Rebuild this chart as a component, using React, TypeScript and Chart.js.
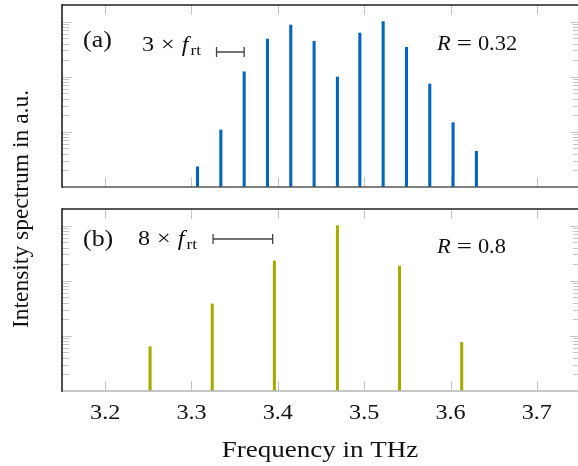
import React, { useEffect, useRef } from 'react';
import { Chart, registerables } from 'chart.js';

Chart.register(...registerables);

// ---- data -------------------------------------------------------------
const X_TICKS = [3.2, 3.3, 3.4, 3.5, 3.6, 3.7];
const X_TICK_LABELS = ['3.2', '3.3', '3.4', '3.5', '3.6', '3.7'];

// panel (a): comb with 3 x f_rt spacing
const TOP_FREQ = [3.307, 3.334, 3.361, 3.388, 3.415, 3.442, 3.469, 3.495, 3.522, 3.549, 3.576, 3.603, 3.630];
const TOP_INTENSITY = [0.00233, 0.0108, 0.123, 0.484, 0.867, 0.44, 0.099, 0.621, 1.0, 0.342, 0.0738, 0.0147, 0.00445];

// panel (b): comb with 8 x f_rt spacing
const BOTTOM_FREQ = [3.252, 3.324, 3.396, 3.469, 3.541, 3.613];
const BOTTOM_INTENSITY = [0.00637, 0.0379, 0.228, 1.0, 0.185, 0.00764];

const PANEL_LABELS = ['(a)', '(b)'];
const SPACING_FACTORS = ['3', '8'];
const R_VALUES = ['0.32', '0.8'];
const TOP_SPAN = [3.329, 3.361];
const BOTTOM_SPAN = [3.325, 3.394];

const X_TITLE = 'Frequency in THz';
const Y_TITLE = 'Intensity spectrum in a.u.';

// ---- layout / style ----------------------------------------------------
const CANVAS_W = 590;
const CANVAS_H = 466;
const PLOT_LEFT = 62;
const PLOT_RIGHT = 580;
const X_MIN = 3.15;
const X_MAX = 3.75;
const Y_MIN = 0.001;
const Y_MAX = 2;
const SERIF = '"Liberation Serif", "Times New Roman", serif';

type PanelSpec = {
  freq: number[];
  intensity: number[];
  color: string;
  top: number;
  bottom: number;
  bottomBorder: string;
  label: string;
  labelBaseline: number;
  factor: string;
  factorX: number;
  factorBaseline: number;
  span: number[];
  spanY: number;
  rText: string;
  rBaseline: number;
  withXAxis: boolean;
  withYTitle: boolean;
};

function stretchedText(
  ctx: CanvasRenderingContext2D,
  text: string,
  x: number,
  y: number,
  font: string,
  align: CanvasTextAlign,
  sx: number
): number {
  ctx.save();
  ctx.font = font;
  ctx.textAlign = align;
  ctx.textBaseline = 'alphabetic';
  ctx.translate(x, y);
  ctx.scale(sx, 1);
  ctx.fillText(text, 0, 0);
  const w = ctx.measureText(text).width * sx;
  ctx.restore();
  return w;
}

function makeDecor(spec: PanelSpec) {
  return {
    id: 'panelDecor',
    beforeDatasetsDraw(chart: any) {
      const ctx: CanvasRenderingContext2D = chart.ctx;
      const { left, right, top, bottom } = chart.chartArea;
      const xs = chart.scales.x;
      const ys = chart.scales.y;
      ctx.save();
      ctx.strokeStyle = '#c4c4c4';
      ctx.lineWidth = 1;
      // vertical major ticks, inward from top and bottom
      X_TICKS.forEach((t) => {
        const px = Math.round(xs.getPixelForValue(t)) + 0.5;
        ctx.beginPath();
        ctx.moveTo(px, top);
        ctx.lineTo(px, top + 10);
        ctx.moveTo(px, bottom);
        ctx.lineTo(px, bottom - 10);
        ctx.stroke();
      });
      // logarithmic ticks on both sides
      for (let e = -3; e <= 0; e++) {
        for (let m = 1; m <= 9; m++) {
          const v = m * Math.pow(10, e);
          if (v <= Y_MIN * 1.0001 || v >= Y_MAX * 0.9999) continue;
          const py = Math.round(ys.getPixelForValue(v)) + 0.5;
          const len = m === 1 ? 10 : 7;
          ctx.beginPath();
          ctx.moveTo(left, py);
          ctx.lineTo(left + len, py);
          ctx.moveTo(right, py);
          ctx.lineTo(right - len, py);
          ctx.stroke();
        }
      }
      ctx.restore();
    },
    afterDatasetsDraw(chart: any) {
      const ctx: CanvasRenderingContext2D = chart.ctx;
      const { left, right, top, bottom } = chart.chartArea;
      const xs = chart.scales.x;
      ctx.save();
      // frame
      ctx.lineWidth = 1.4;
      ctx.strokeStyle = '#222';
      ctx.beginPath();
      ctx.moveTo(left, top);
      ctx.lineTo(right, top);
      ctx.lineTo(right, bottom);
      ctx.stroke();
      ctx.strokeStyle = spec.bottomBorder;
      ctx.beginPath();
      ctx.moveTo(left, bottom);
      ctx.lineTo(right, bottom);
      ctx.stroke();
      ctx.strokeStyle = '#000';
      ctx.beginPath();
      ctx.moveTo(left, top - 0.7);
      ctx.lineTo(left, bottom + 0.7);
      ctx.stroke();

      ctx.fillStyle = '#111';
      // panel label
      stretchedText(ctx, spec.label, 83, spec.labelBaseline, `24px ${SERIF}`, 'left', 1.08);

      // "N x f_rt" annotation
      let cx = spec.factorX;
      const fb = spec.factorBaseline;
      cx += stretchedText(ctx, spec.factor, cx, fb, `21px ${SERIF}`, 'left', 1.15);
      cx += 7;
      cx += stretchedText(ctx, '\u00d7', cx, fb, `21px ${SERIF}`, 'left', 1.15);
      cx += 7;
      cx += stretchedText(ctx, 'f', cx, fb, `italic 21px ${SERIF}`, 'left', 1.15);
      cx += 2;
      stretchedText(ctx, 'rt', cx, fb + 4, `15px ${SERIF}`, 'left', 1.15);

      // bracket showing the spacing
      const x0 = xs.getPixelForValue(spec.span[0]);
      const x1 = xs.getPixelForValue(spec.span[1]);
      const by = spec.spanY;
      ctx.strokeStyle = '#444';
      ctx.lineWidth = 1.3;
      ctx.beginPath();
      ctx.moveTo(x0, by);
      ctx.lineTo(x1, by);
      ctx.moveTo(x0, by - 5);
      ctx.lineTo(x0, by + 5);
      ctx.moveTo(x1, by - 5);
      ctx.lineTo(x1, by + 5);
      ctx.stroke();

      // reflectivity annotation
      let rx = 437;
      const rb = spec.rBaseline;
      rx += stretchedText(ctx, 'R', rx, rb, `italic 20px ${SERIF}`, 'left', 1.12);
      rx += 6;
      rx += stretchedText(ctx, '=', rx, rb, `20px ${SERIF}`, 'left', 1.35);
      rx += 6;
      stretchedText(ctx, spec.rText, rx, rb, `20px ${SERIF}`, 'left', 1.12);

      if (spec.withXAxis) {
        X_TICKS.forEach((t, i) => {
          stretchedText(ctx, X_TICK_LABELS[i], xs.getPixelForValue(t), 418.5, `22px ${SERIF}`, 'center', 1.1);
        });
        stretchedText(ctx, X_TITLE, 320, 457, `23.5px ${SERIF}`, 'center', 1.15);
      }

      if (spec.withYTitle) {
        ctx.save();
        ctx.font = `23.5px ${SERIF}`;
        ctx.textAlign = 'center';
        ctx.textBaseline = 'alphabetic';
        ctx.translate(28, 209);
        ctx.rotate(-Math.PI / 2);
        ctx.fillText(Y_TITLE, 0, 0);
        ctx.restore();
      }
      ctx.restore();
    },
  };
}

function buildChart(canvas: HTMLCanvasElement, spec: PanelSpec) {
  return new Chart(canvas, {
    type: 'bar',
    data: {
      datasets: [
        {
          data: spec.freq.map((f, i) => ({ x: f, y: spec.intensity[i] })),
          backgroundColor: spec.color,
          borderWidth: 0,
          barThickness: 2.4,
        },
      ],
    },
    options: {
      responsive: false,
      animation: false,
      devicePixelRatio: 1,
      events: [],
      layout: {
        padding: {
          left: PLOT_LEFT,
          right: CANVAS_W - PLOT_RIGHT,
          top: spec.top,
          bottom: CANVAS_H - spec.bottom,
        },
      },
      plugins: {
        legend: { display: false },
        tooltip: { enabled: false },
      },
      scales: {
        x: { type: 'linear', min: X_MIN, max: X_MAX, offset: false, display: false },
        y: { type: 'logarithmic', min: Y_MIN, max: Y_MAX, display: false },
      },
    } as any,
    plugins: [makeDecor(spec)],
  });
}

const PANELS: PanelSpec[] = [
  {
    freq: TOP_FREQ,
    intensity: TOP_INTENSITY,
    color: '#0065BD',
    top: 5,
    bottom: 187,
    bottomBorder: '#555',
    label: PANEL_LABELS[0],
    labelBaseline: 47,
    factor: SPACING_FACTORS[0],
    factorX: 142,
    factorBaseline: 51,
    span: TOP_SPAN,
    spanY: 52,
    rText: R_VALUES[0],
    rBaseline: 49.5,
    withXAxis: false,
    withYTitle: true,
  },
  {
    freq: BOTTOM_FREQ,
    intensity: BOTTOM_INTENSITY,
    color: '#A2AD00',
    top: 209,
    bottom: 391,
    bottomBorder: '#b4b4b4',
    label: PANEL_LABELS[1],
    labelBaseline: 246,
    factor: SPACING_FACTORS[1],
    factorX: 138,
    factorBaseline: 245,
    span: BOTTOM_SPAN,
    spanY: 239,
    rText: R_VALUES[1],
    rBaseline: 253,
    withXAxis: true,
    withYTitle: false,
  },
];

export default function App() {
  const topRef = useRef<HTMLCanvasElement | null>(null);
  const bottomRef = useRef<HTMLCanvasElement | null>(null);

  useEffect(() => {
    const charts: Chart[] = [];
    if (topRef.current) charts.push(buildChart(topRef.current, PANELS[0]));
    if (bottomRef.current) charts.push(buildChart(bottomRef.current, PANELS[1]));
    return () => charts.forEach((c) => c.destroy());
  }, []);

  const canvasStyle: React.CSSProperties = {
    position: 'absolute',
    left: 0,
    top: 0,
    width: CANVAS_W,
    height: CANVAS_H,
  };

  return (
    <div
      style={{
        position: 'fixed',
        left: 0,
        top: 0,
        width: 578,
        height: 466,
        overflow: 'hidden',
        background: '#fff',
      }}
    >
      <canvas ref={topRef} width={CANVAS_W} height={CANVAS_H} style={canvasStyle} />
      <canvas ref={bottomRef} width={CANVAS_W} height={CANVAS_H} style={canvasStyle} />
    </div>
  );
}
